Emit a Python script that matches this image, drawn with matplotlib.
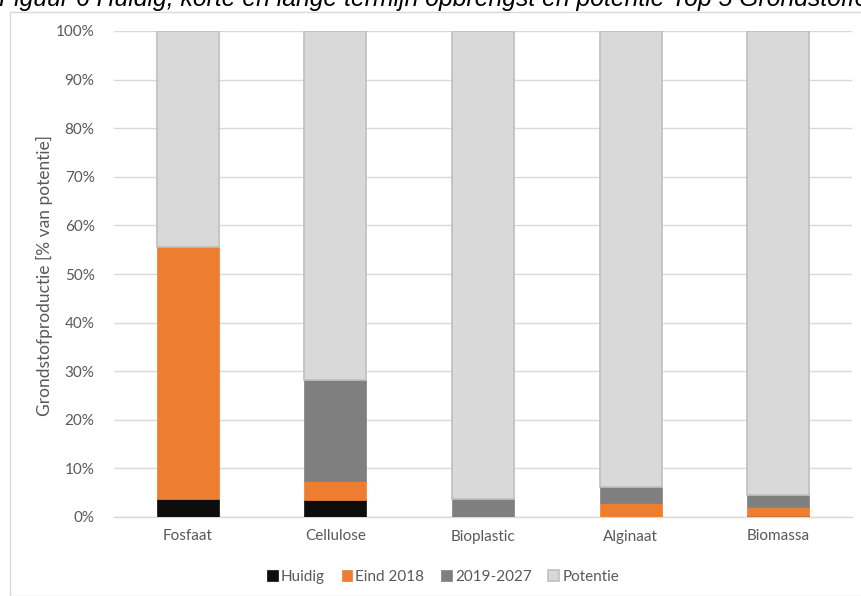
import matplotlib
matplotlib.use("Agg")
import matplotlib.pyplot as plt
from matplotlib.patches import Rectangle
import numpy as np

categories = ["Fosfaat", "Cellulose", "Bioplastic", "Alginaat", "Biomassa"]
huidig = [3.7, 3.5, 0.0, 0.0, 0.3]
eind2018 = [51.9, 3.9, 0.0, 2.9, 1.8]
periode = [0.0, 20.8, 3.7, 3.3, 2.4]
potentie = [44.4, 71.8, 96.3, 93.8, 95.5]
series_names = ["Huidig", "Eind 2018", "2019-2027", "Potentie"]
yticks = [0, 10, 20, 30, 40, 50, 60, 70, 80, 90, 100]

colors = ["#0d0d0d", "#ed7d31", "#7f7f7f", "#d9d9d9"]
edges = ["#0d0d0d", "#ed7d31", "#7f7f7f", "#bfbfbf"]

W, H = 861, 596
fig = plt.figure(figsize=(W/100, H/100), dpi=100)
plt.rcParams['font.family'] = ['Lato', 'DejaVu Sans']

# chart border
fig.patches.append(Rectangle((10/W, 0), 1, 1 - 12/H, transform=fig.transFigure,
                             fill=False, edgecolor="#d9d9d9", linewidth=1.0))

# title (clipped at the top edge, as in the reference)
fig.text(-1/W, 1 - 6/H, "Figuur 6 Huidig, korte en lange termijn opbrengst en potentie Top 5 Grondstoffen",
         family=['Liberation Sans'], style='italic', fontsize=17.8, color="#000000",
         ha='left', va='baseline')

ax = fig.add_axes([114/W, (H-517)/H, (852-114)/W, (517-31)/H])
x = np.arange(len(categories))
bottom = np.zeros(len(categories))
handles = []
for vals, name, c, e in zip([huidig, eind2018, periode, potentie], series_names, colors, edges):
    vals = np.array(vals)
    lw = 1.2 if name == "Potentie" else 0.5
    b = ax.bar(x, vals, 0.42, bottom=bottom, color=c, edgecolor=e, linewidth=lw,
               label=name, zorder=3)
    handles.append(b)
    bottom += vals

ax.set_xlim(-0.5, len(categories) - 0.5)
ax.set_ylim(0, 100)
ax.set_yticks(yticks)
ax.set_yticklabels([f"{v}%" for v in yticks])
ax.set_xticks(x)
ax.set_xticklabels(categories)
ax.tick_params(axis='both', length=0, colors="#595959", labelsize=11)
ax.tick_params(axis='y', pad=14)
ax.tick_params(axis='x', pad=9)
ax.grid(axis='y', color="#d9d9d9", linewidth=1.0, zorder=0)
for s in ["top", "right", "left"]:
    ax.spines[s].set_visible(False)
ax.spines["bottom"].set_color("#d9d9d9")
ax.spines["bottom"].set_linewidth(1.0)

fig.text(44/W, 1 - 275/H, "Grondstofproductie [% van potentie]", rotation=90,
         ha='center', va='center', fontsize=12.5, color="#595959")

leg = fig.legend(handles=handles, labels=series_names, loc='center',
                 bbox_to_anchor=(443/W, 1 - 577/H), ncol=4, frameon=False,
                 fontsize=11, handlelength=0.7, handleheight=0.7, handletextpad=0.2,
                 columnspacing=1.1, labelcolor="#595959")

fig.savefig("out.png", dpi=100)
